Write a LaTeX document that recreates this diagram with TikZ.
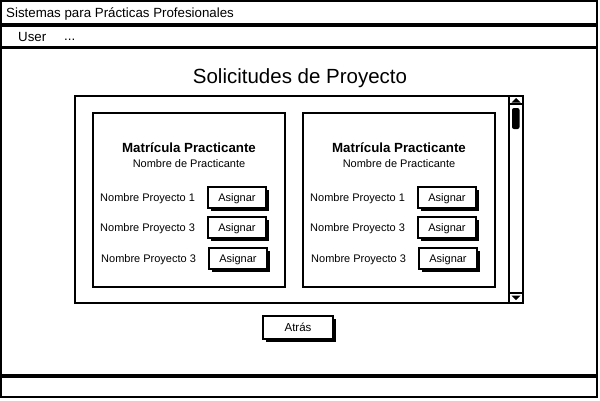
\documentclass[tikz,border=0pt]{standalone}
\usepackage{fontspec}
\setmainfont{Liberation Sans}
\usetikzlibrary{shadows}
\begin{document}
\begin{tikzpicture}[x=1pt,y=-1pt,
  frame/.style={draw=black, line width=1.7pt, fill=white},
  thin/.style={draw=black, line width=1.5pt},
  lbl/.style={inner sep=0pt, font=\fontsize{11}{13}\selectfont},
  btnbox/.style={draw=black, line width=1.5pt, fill=white, minimum width=58pt, minimum height=21pt,
     inner sep=0pt, text depth=0pt, font=\fontsize{11}{13}\selectfont,
     drop shadow={shadow xshift=2.5pt, shadow yshift=-2.5pt, fill=black, opacity=1}},
  cardhead/.style={inner sep=0pt, font=\bfseries\fontsize{13.3}{15}\selectfont},
  bar/.style={inner sep=0pt, font=\fontsize{13.3}{15}\selectfont, anchor=west}]
\useasboundingbox (0,0) rectangle (600,400);
% window frame
\draw[frame] (1,1) rectangle (597,24);
\draw[frame] (1,26) rectangle (597,47);
\draw[frame] (1,48) rectangle (597,375);
\draw[frame] (1,377) rectangle (597,397);
\node[bar] (apptitle) at (6,13.5) {Sistemas para Prácticas Profesionales};
\node[bar] (menuuser) at (18,36.5) {User};
\node[bar, anchor=base west] (menumore) at (64,40) {...};
% page title
\node[inner sep=0pt, font=\fontsize{20.5}{24}\selectfont] (pagetitle) at (300,78) {Solicitudes de Proyecto};
% scroll panel
\draw[frame] (75,96) rectangle (523,303);
\draw[thin] (509,96) -- (509,303);
\draw[thin] (509,104) -- (523,104);
\draw[thin] (509,293) -- (523,293);
\fill[black] (516,98) -- (520.5,102.5) -- (511.5,102.5) -- cycle;
\fill[black] (516,300) -- (520.5,295.5) -- (511.5,295.5) -- cycle;
\fill[black, rounded corners=2pt] (512,108) rectangle (519.5,129);
% cards
\foreach \cx/\nm in {0/a,210/b}{
  \draw[frame] (93+\cx,113) rectangle (285+\cx,287);
  \node[cardhead] (head\nm) at (189+\cx,148) {Matrícula Practicante};
  \node[lbl] (name\nm) at (189+\cx,164) {Nombre de Practicante};
  \node[lbl, anchor=west] (p1\nm) at (100+\cx,199) {Nombre Proyecto 1};
  \node[lbl, anchor=west] (p2\nm) at (100+\cx,229) {Nombre Proyecto 3};
  \node[lbl, anchor=west] (p3\nm) at (101+\cx,260) {Nombre Proyecto 3};
  \node[btnbox] (b1\nm) at (237+\cx,197.5) {Asignar};
  \node[btnbox] (b2\nm) at (237+\cx,227.5) {Asignar};
  \node[btnbox] (b3\nm) at (238+\cx,258.5) {Asignar};
}
% back button
\node[btnbox, minimum width=70pt, minimum height=23pt, font=\fontsize{11.5}{13}\selectfont] (back) at (298,327.5) {Atrás};
\end{tikzpicture}
\end{document}
